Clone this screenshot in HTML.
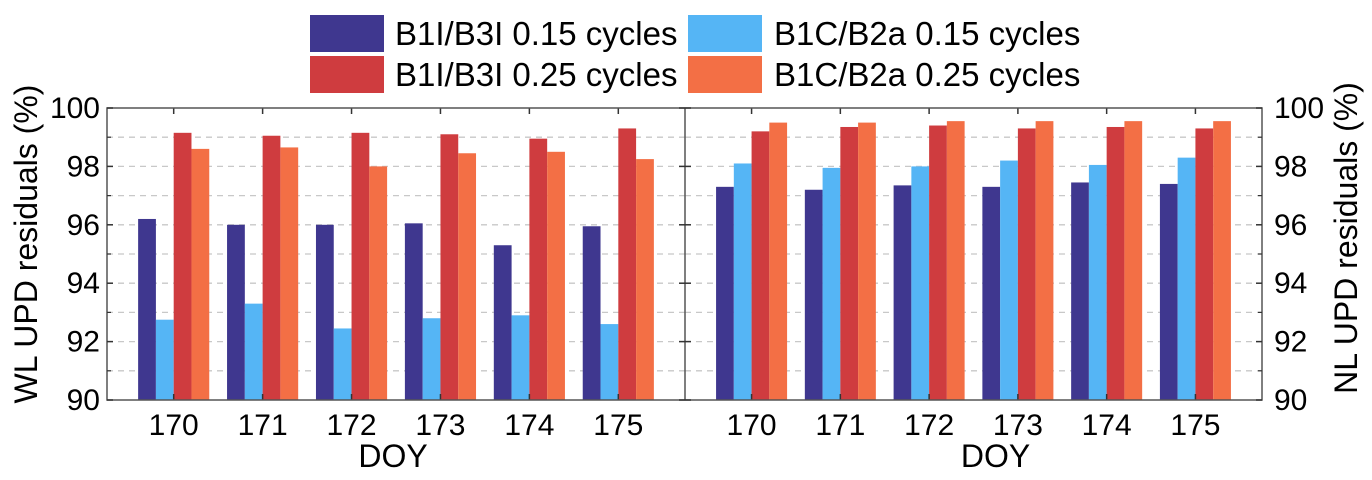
<!DOCTYPE html>
<html><head><meta charset="utf-8"><style>
body{margin:0;background:#fff}
svg{display:block;font-family:"Liberation Sans",Arial,sans-serif}
</style></head><body>
<svg id="chart" width="1372" height="480">
<g id="legend"></g>
<g id="grid"></g>
<g id="bars"></g>
<g id="axes"></g>
</svg>
<script>
const categories=[170,171,172,173,174,175];
const seriesNames=["B1I/B3I 0.15 cycles","B1C/B2a 0.15 cycles","B1I/B3I 0.25 cycles","B1C/B2a 0.25 cycles"];
const wl_b1i_015=[96.2,96.0,96.0,96.05,95.3,95.95];
const wl_b1c_015=[92.75,93.3,92.45,92.8,92.9,92.6];
const wl_b1i_025=[99.15,99.05,99.15,99.1,98.95,99.3];
const wl_b1c_025=[98.6,98.65,98.0,98.45,98.5,98.25];
const nl_b1i_015=[97.3,97.2,97.35,97.3,97.45,97.4];
const nl_b1c_015=[98.1,97.95,98.0,98.2,98.05,98.3];
const nl_b1i_025=[99.2,99.35,99.4,99.3,99.35,99.3];
const nl_b1c_025=[99.5,99.5,99.55,99.55,99.55,99.55];
const yTicks=[90,92,94,96,98,100];
const colors=["#3f378f","#55b5f5","#cf3c3f","#f36f45"];
const NS="http://www.w3.org/2000/svg";
function mk(tag,attrs,parent,text){const e=document.createElementNS(NS,tag);for(const k in attrs)e.setAttribute(k,attrs[k]);if(text!==undefined)e.textContent=text;parent.appendChild(e);return e;}
const plotTop=108,plotBot=400;
function y(v){return plotBot-(v-90)/10*(plotBot-plotTop);}
const panels=[{x0:107,x1:685,data:[wl_b1i_015,wl_b1c_015,wl_b1i_025,wl_b1c_025],name:"wl",doy:-3},{x0:685,x1:1262,data:[nl_b1i_015,nl_b1c_015,nl_b1i_025,nl_b1c_025],name:"nl",doy:22}];
const G=document.getElementById('grid'),B=document.getElementById('bars'),A=document.getElementById('axes'),L=document.getElementById('legend');
const lx=[310,688],lt=[395,774],ly=[15,56];
seriesNames.forEach((n,i)=>{
 const col=i%2,row=Math.floor(i/2);
 const r=mk('rect',{x:lx[col],y:ly[row],width:74,height:37,fill:colors[i]},L);
 
 
 const t=mk('text',{x:lt[col],y:ly[row]+30,'font-size':33,fill:'#000'},L,n);
 
 
});
panels.forEach((p,pi)=>{
 const xs=v=>p.x0+(v-169.25)/6.5*(p.x1-p.x0);
 for(let v=91;v<100;v++){
  const l=mk('line',{x1:p.x0,x2:p.x1,y1:y(v),y2:y(v),stroke:'#c8c8c8','stroke-width':1.3,'stroke-dasharray':'6,5'},G);
  
  
 }
 const bw=(p.x1-p.x0)/6.5*0.2;
 categories.forEach((c,ci)=>{
  p.data.forEach((s,si)=>{
   const x=xs(c)+(si-2)*bw;
   const r=mk('rect',{x:x,y:y(s[ci]),width:bw,height:plotBot-y(s[ci]),fill:colors[si]},B);
   
   
  });
  const cx=xs(c);
  mk('line',{x1:cx,x2:cx,y1:plotTop,y2:plotTop+6,stroke:'#333','stroke-width':1.5},A);
  mk('line',{x1:cx,x2:cx,y1:plotBot,y2:plotBot-6,stroke:'#333','stroke-width':1.5},A);
  const t=mk('text',{x:cx,y:435,'font-size':30,'text-anchor':'middle',fill:'#000'},A,String(c));
  
  
 });
 const xt=mk('text',{x:(p.x0+p.x1)/2+p.doy,y:467,'font-size':32,'text-anchor':'middle',fill:'#000'},A,'DOY');
 
 
});
const fr=mk('rect',{x:107,y:plotTop,width:1155,height:plotBot-plotTop,fill:'none',stroke:'#555','stroke-width':1.5},A);


mk('line',{x1:685,x2:685,y1:plotTop,y2:plotBot,stroke:'#555','stroke-width':1.5},A);
yTicks.forEach(v=>{
 [[107,113],[685,679],[685,691],[1262,1256]].forEach(a=>mk('line',{x1:a[0],x2:a[1],y1:y(v),y2:y(v),stroke:'#333','stroke-width':1.5},A));
 if(v<100){[[107,111],[1262,1258]].forEach(a=>{mk('line',{x1:a[0],x2:a[1],y1:y(v+1),y2:y(v+1),stroke:'#333','stroke-width':1.2},A);});}
 const t1=mk('text',{x:100,y:y(v)+10,'font-size':30,'text-anchor':'end',fill:'#000'},A,String(v));
 
 
 const t2=mk('text',{x:1274,y:y(v)+10,'font-size':30,'text-anchor':'start',fill:'#000'},A,String(v));
 
 
});
const yl=mk('text',{x:0,y:0,'font-size':32,'text-anchor':'middle',fill:'#000',transform:'translate(37,244) rotate(-90)'},A,'WL UPD residuals (%)');


const yr=mk('text',{x:0,y:0,'font-size':32,'text-anchor':'middle',fill:'#000',transform:'translate(1357,238) rotate(-90)'},A,'NL UPD residuals (%)');


</script>
</body></html>
